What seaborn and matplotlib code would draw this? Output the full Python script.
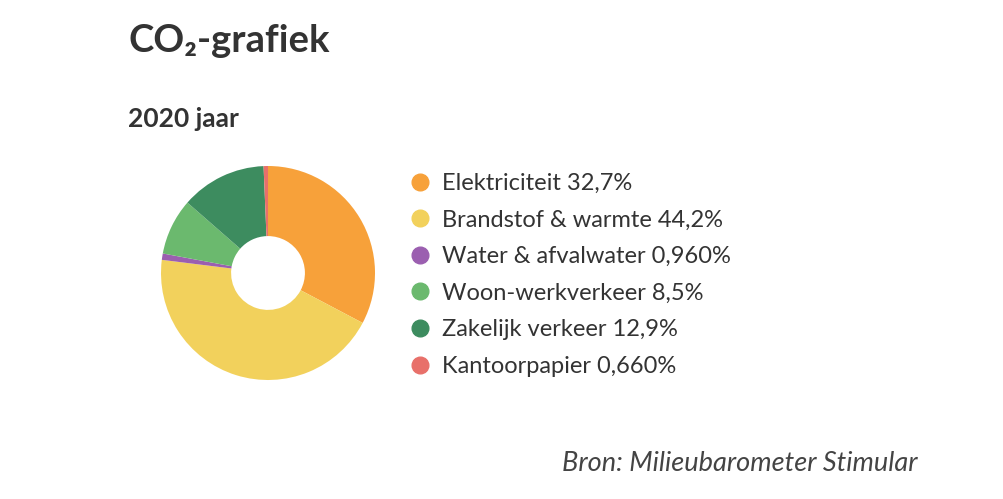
import matplotlib
matplotlib.use("Agg")
import matplotlib.pyplot as plt
from matplotlib.lines import Line2D
import seaborn as sns

categories = ["Elektriciteit", "Brandstof & warmte", "Water & afvalwater",
              "Woon-werkverkeer", "Zakelijk verkeer", "Kantoorpapier"]
values = [32.7, 44.2, 0.96, 8.5, 12.9, 0.66]
value_labels = ["32,7%", "44,2%", "0,960%", "8,5%", "12,9%", "0,660%"]
colors = ["#F7A13A", "#F2D15C", "#9B5FB0", "#6BB96E", "#3D8C5F", "#E8706A"]

sns.set_theme(style="white")
plt.rcParams['font.family'] = ['Lato', 'Noto Sans', 'DejaVu Sans']

fig = plt.figure(figsize=(10.04, 4.99), dpi=100)
fig.patch.set_facecolor("white")

W, H = 1004, 499
cx, cy, r = 268, 273, 107
ax = fig.add_axes([(cx - r) / W, (H - cy - r) / H, 2 * r / W, 2 * r / H])
wedges, _ = ax.pie(values, colors=colors, startangle=90, counterclock=False,
                   wedgeprops=dict(width=0.655, linewidth=0))
ax.set_xlim(-1, 1)
ax.set_ylim(-1, 1)
ax.set_aspect("equal")
ax.axis("off")

handles = [Line2D([0], [0], marker="o", linestyle="", markersize=12,
                  markerfacecolor=c, markeredgecolor=c) for c in colors]
labels = [f"{c} {v}" for c, v in zip(categories, value_labels)]
fig.legend(handles, labels, loc="upper left", bbox_to_anchor=(408 / W, 1 - 173 / H),
           frameon=False, fontsize=17, labelcolor="#333333", handletextpad=0.45,
           labelspacing=0.66, handlelength=1.0, borderpad=0, borderaxespad=0)

fig.text(128 / W, 1 - 52 / H, "CO₂-grafiek", fontsize=27.5, fontweight="bold",
         color="#333333", ha="left", va="baseline")
fig.text(128 / W, 1 - 127 / H, "2020 jaar", fontsize=19, fontweight="bold",
         color="#333333", ha="left", va="baseline")
fig.text(918 / W, 1 - 471 / H, "Bron: Milieubarometer Stimular", fontsize=19.5,
         fontstyle="italic", color="#444444", ha="right", va="baseline")

fig.savefig("out.png", dpi=100, facecolor="white")
